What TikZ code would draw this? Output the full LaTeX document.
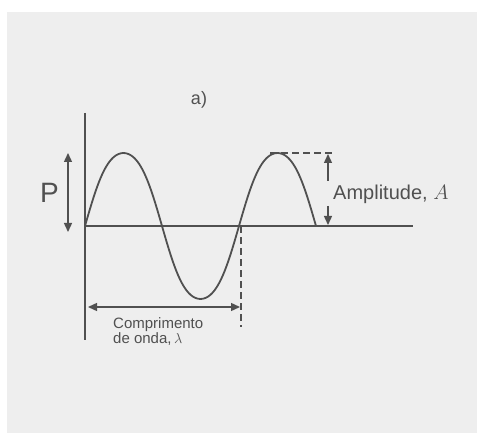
\documentclass[tikz,border=0pt]{standalone}
\usepackage{fontspec}
\setmainfont{Liberation Sans}
\usepackage{tikz}
\usetikzlibrary{
	arrows.meta,
	calc,
	positioning
}
\definecolor{PaperGray}{RGB}{238,238,238}
\definecolor{InkGray}{RGB}{80,80,80}

\begin{document}
\begin{tikzpicture}[x=1pt, y=-1pt,
		axisline/.style={InkGray, line width=1.4pt},
		wave/.style={InkGray, line width=1.8pt},
		guide/.style={InkGray, line width=1.4pt, dash pattern=on 7pt off 4pt},
		dimarrow/.style={InkGray, line width=1.4pt, -{Triangle[length=9pt, width=8pt]}},
		dimboth/.style={InkGray, line width=1.4pt, {Triangle[length=9pt, width=8pt]}-{Triangle[length=9pt, width=8pt]}},
		lbl/.style={InkGray, inner sep=0pt}]
			% fundo
			\useasboundingbox (0,0) rectangle (477,433);
			\fill[PaperGray] (7,12) rectangle (477,433);
			% eixos
			\coordinate (O) at (85,226);
			\coordinate (yTop) at (85,113);
			\coordinate (yBot) at (85,340);
			\coordinate (xEnd) at (413,226);
			\draw[axisline] (yTop) -- (yBot);
			\draw[axisline] (O) -- (xEnd);
			% onda
			\draw[wave] plot[domain=0:540, samples=150, smooth] ({85+\x/360*154},{226-76*(sin(\x)+0.04*sin(3*\x))});
			\node[lbl, font=\fontsize{18}{20}\selectfont] (lblA) at (199,100) {a)};
			% P
			\coordinate (pTop) at (68,153);
			\coordinate (pBot) at (68,232);
			\draw[dimboth] (pBot) -- (pTop);
			\node[lbl, anchor=base west, font=\fontsize{28}{30}\selectfont] (lblP) at (40,203) {P};
			% amplitude
			\coordinate (crest) at (270,153);
			\coordinate (crestEnd) at (335,153);
			\draw[guide] (crest) -- (crestEnd);
			\coordinate (ampUp) at (328,154);
			\coordinate (ampUpTail) at (328,181);
			\coordinate (ampDn) at (328,225);
			\coordinate (ampDnTail) at (328,206);
			\draw[dimarrow] (ampUpTail) -- (ampUp);
			\draw[dimarrow] (ampDnTail) -- (ampDn);
			\node[lbl, anchor=base west, font=\fontsize{20}{22}\selectfont] (lblAmp) at (333,200) {Amplitude, $A$};
			% comprimento de onda
			\coordinate (lamTop) at (241,226);
			\coordinate (lamBot) at (241,327);
			\draw[guide] (lamTop) -- (lamBot);
			\coordinate (lamL) at (88,307);
			\coordinate (lamR) at (240,307);
			\draw[dimboth] (lamL) -- (lamR);
			\node[lbl, anchor=north west, align=left, font=\fontsize{15}{15.5}\selectfont] (lblLam) at (113,317) {Comprimento\\de onda,\,$\lambda$};
		\end{tikzpicture}
\end{document}
